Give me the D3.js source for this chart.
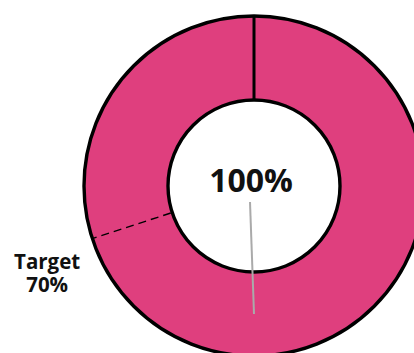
<!DOCTYPE html>
<html>
<head>
<meta charset="utf-8">
<script src="https://cdn.jsdelivr.net/npm/d3@7"></script>
<style>
  html, body { margin: 0; padding: 0; background: #fff; }
  svg { display: block; font-family: "Open Sans", "Noto Sans", sans-serif; }
</style>
</head>
<body>
<svg id="chart" width="414" height="353"></svg>
<script>
// Progress gauge: achieved share of goal and the target marker
const achieved = [100];      // percent reached
const targets = [70];        // target percent
const targetLabels = ["Target", "70%"];
const valueLabel = ["100%"];

const width = 414, height = 353;
const cx = 254, cy = 186;
const outerR = 170, innerR = 86;

const svg = d3.select("#chart");
const g = svg.append("g").attr("transform", `translate(${cx},${cy})`);

// percent -> angle, clockwise from 12 o'clock
const angle = d3.scaleLinear().domain([0, 100]).range([0, 2 * Math.PI]);

const arc = d3.arc().innerRadius(innerR).outerRadius(outerR);

// ring segment for the achieved value
const datum = { startAngle: angle(0), endAngle: angle(achieved[0]) };
g.append("path")
  .attr("d", arc(datum))
  .attr("fill", "#df3f7e")
  .attr("stroke", "none");

// ring outlines
g.append("circle").attr("r", outerR).attr("fill", "none")
  .attr("stroke", "#000").attr("stroke-width", 3.4);
g.append("circle").attr("r", innerR).attr("fill", "#fff")
  .attr("stroke", "#000").attr("stroke-width", 3.4);

// start boundary of the segment
const radial = (a, r) => [r * Math.sin(a), -r * Math.cos(a)];
const s0 = radial(angle(0), innerR), s1 = radial(angle(0), outerR);
g.append("line")
  .attr("x1", s0[0]).attr("y1", s0[1])
  .attr("x2", s1[0]).attr("y2", s1[1])
  .attr("stroke", "#000").attr("stroke-width", 3);

// target marker (dashed radial line)
const ta = angle(targets[0]);
const t0 = radial(ta, innerR + 1.5), t1 = radial(ta, outerR - 1.5);
g.append("line")
  .attr("x1", t0[0]).attr("y1", t0[1])
  .attr("x2", t1[0]).attr("y2", t1[1])
  .attr("stroke", "#000").attr("stroke-width", 1.4)
  .attr("stroke-dasharray", "8,5");

// target label outside the ring, one text per line
const tl = radial(ta, outerR + 47);
g.selectAll("text.target").data(targetLabels).join("text")
  .attr("class", "target")
  .attr("x", tl[0] - 0.5)
  .attr("y", (d, i) => tl[1] + 16 + i * 22.5)
  .attr("text-anchor", "middle")
  .attr("font-size", 20.5)
  .attr("font-weight", "bold")
  .attr("fill", "#111")
  .text(d => d);

// value label with a leader to the segment centroid
const c = arc.centroid(datum);
g.append("line")
  .attr("x1", -4).attr("y1", 16)
  .attr("x2", c[0]).attr("y2", c[1])
  .attr("stroke", "#aaa").attr("stroke-width", 2);

g.append("text")
  .attr("x", -3)
  .attr("y", 6)
  .attr("text-anchor", "middle")
  .attr("font-size", 32)
  .attr("font-weight", "bold")
  .attr("fill", "#111")
  .text(valueLabel[0]);
</script>
</body>
</html>
